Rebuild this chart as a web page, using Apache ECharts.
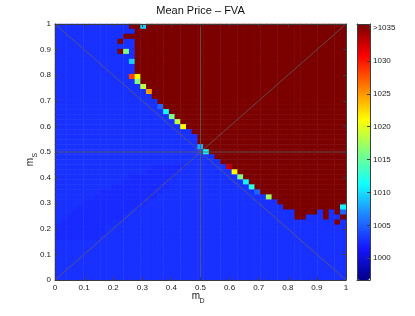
<!DOCTYPE html>
<html><head><meta charset="utf-8">
<script src="https://cdn.jsdelivr.net/npm/echarts@6/dist/echarts.min.js"></script>
<style>html,body{margin:0;padding:0;background:#fff}#c{width:415px;height:316px}</style>
</head><body><div id="c"></div>
<script>
// colour scale (jet) limits and colorbar tick labels
const cbMin = 996.7, cbMax = 1035.6;
const cbTicks = [1000, 1005, 1010, 1015, 1020, 1025, 1030, 1035];
// cell levels (key -> mean price)
const levels = {
  '.': 1002.8, ',': 1002.5, 'R': 1035.5, 'c': 1009.5, 'b': 1008, 'g': 1016,
  'o': 1028.3, 'y': 1021, 'l': 1018.5, 'O': 1024.7, 'm': 1005.2, 'C': 1011,
  'r': 1033, 'k': 1012.5, 'L': 1017.5
};
// 51 x 51 cells, rows from m_S = 1 (top) down to m_S = 0, columns m_D = 0 .. 1 (grouped by 10)
const rows = [
  ".......... ...RRcRRRR RRRRRRRRRR RRRRRRRRRR RRRRRRRRRR R",
  ".......... ....RRRRRR RRRRRRRRRR RRRRRRRRRR RRRRRRRRRR R",
  ".......... ..RRRRRRRR RRRRRRRRRR RRRRRRRRRR RRRRRRRRRR R",
  ".......... .R..RRRRRR RRRRRRRRRR RRRRRRRRRR RRRRRRRRRR R",
  ".......... ....RRRRRR RRRRRRRRRR RRRRRRRRRR RRRRRRRRRR R",
  ".......... .Rg.RRRRRR RRRRRRRRRR RRRRRRRRRR RRRRRRRRRR R",
  ".......... ....RRRRRR RRRRRRRRRR RRRRRRRRRR RRRRRRRRRR R",
  ".......... ...cRRRRRR RRRRRRRRRR RRRRRRRRRR RRRRRRRRRR R",
  ".......... ....RRRRRR RRRRRRRRRR RRRRRRRRRR RRRRRRRRRR R",
  ".......... ....RRRRRR RRRRRRRRRR RRRRRRRRRR RRRRRRRRRR R",
  ".......... ...oyRRRRR RRRRRRRRRR RRRRRRRRRR RRRRRRRRRR R",
  ".......... ....gRRRRR RRRRRRRRRR RRRRRRRRRR RRRRRRRRRR R",
  ".......... .....lRRRR RRRRRRRRRR RRRRRRRRRR RRRRRRRRRR R",
  ".......... ......ORRR RRRRRRRRRR RRRRRRRRRR RRRRRRRRRR R",
  ".......... .......RRR RRRRRRRRRR RRRRRRRRRR RRRRRRRRRR R",
  ".......... ........RR RRRRRRRRRR RRRRRRRRRR RRRRRRRRRR R",
  ".......... ........mR RRRRRRRRRR RRRRRRRRRR RRRRRRRRRR R",
  ".......... .........C RRRRRRRRRR RRRRRRRRRR RRRRRRRRRR R",
  ".......... .......... gRRRRRRRRR RRRRRRRRRR RRRRRRRRRR R",
  ".......... .......... .lRRRRRRRR RRRRRRRRRR RRRRRRRRRR R",
  ".......... .......... ..yRRRRRRR RRRRRRRRRR RRRRRRRRRR R",
  ".......... .......... ....RRRRRR RRRRRRRRRR RRRRRRRRRR R",
  ".......... .......... .....RRRRR RRRRRRRRRR RRRRRRRRRR R",
  ".......... .......... .....RRRRR RRRRRRRRRR RRRRRRRRRR R",
  ".......... .......... .....bRRRR RRRRRRRRRR RRRRRRRRRR R",
  ".......... .......... ......CRRR RRRRRRRRRR RRRRRRRRRR R",
  ".......... .......... ........RR RRRRRRRRRR RRRRRRRRRR R",
  ".......... .......... .........R RRRRRRRRRR RRRRRRRRRR R",
  ".......... .......,,, ,,,....... rRRRRRRRRR RRRRRRRRRR R",
  ".......... ......,,,, ,,........ .yRRRRRRRR RRRRRRRRRR R",
  ".......... ...,,,,,,, ,......... ..gRRRRRRR RRRRRRRRRR R",
  ".......... ..,,,,,,,, .......... ...CRRRRRR RRRRRRRRRR R",
  ".......... ,,,,,,,,,, .......... ....kRRRRR RRRRRRRRRR R",
  "........,, ,,,,,,,,,. .......... .....mRRRR RRRRRRRRRR R",
  ".......,,, ,,,,,,,,.. .......... .......LRR RRRRRRRRRR R",
  ".....,,,,, ,,,,,,.... .......... .........R RRRRRRRRRR R",
  "....,,,,,, ,,,,,..... .......... .......... RRRRRRRRRR C",
  "...,,,,,,, ,,,....... .......... .......... ..RRRR.R.R m",
  "..,,,,,,,, ,,........ .......... .......... ..RR...R.. R",
  ".,,,,,,,,, .......... .......... .......... .........R .",
  ",,,,,,,,,. .......... .......... .......... .......... .",
  ",,,,,,,,,. .......... .......... .......... .......... .",
  ",,,,,,,,.. .......... .......... .......... .......... .",
  ".......... .......... .......... .......... .......... .",
  ".......... .......... .......... .......... .......... .",
  ".......... .......... .......... .......... .......... .",
  ".......... .......... .......... .......... .......... .",
  ".......... .......... .......... .......... .......... .",
  ".......... .......... .......... .......... .......... .",
  ".......... .......... .......... .......... .......... .",
  ".......... .......... .......... .......... .......... ."
];
// reference lines (m_D, m_S)
const diagUp = [[0, 0], [1, 1]];
const diagDown = [[0, 1], [1, 0]];
const midV = [[0.5, 0], [0.5, 1]];
const midH = [[0, 0.5], [1, 0.5]];

const N = rows.length;
const cats = rows.map((_, i) => String(i));
const cells = [];
rows.forEach((r, i) => {
  const s = r.replace(/ /g, '');
  const yi = N - 1 - i;
  for (let k = 0; k < s.length; k++) cells.push([k, yi, levels[s[k]]]);
});

const FONT = 'Liberation Sans, Arial, Helvetica, sans-serif';
const AX = '#3c3c3c', TXT = '#1a1a1a';
const G = { left: 55, top: 24, width: 291, height: 256 };
const CB = { left: 357, top: 24, width: 13, height: 256 };

const valAxisBase = (extra) => Object.assign({
  type: 'value', gridIndex: 0, min: 0, max: 1, interval: 0.1, z: 5,
  splitLine: { show: false },
  axisLine: { show: true, onZero: false, lineStyle: { color: AX, width: 1 } },
  axisTick: { show: true, inside: true, length: 3, lineStyle: { color: AX } },
  axisLabel: { show: false }
}, extra);

const lineSeries = (d) => ({
  type: 'line', xAxisIndex: 1, yAxisIndex: 1, data: d, symbol: 'none',
  silent: true, z: 4, animation: false,
  lineStyle: { color: 'rgba(95,95,95,0.8)', width: 1 }
});

const chart = echarts.init(document.getElementById('c'), null, { renderer: 'canvas' });
chart.setOption({
  animation: false,
  backgroundColor: '#fff',
  textStyle: { fontFamily: FONT },
  grid: [
    Object.assign({ containLabel: false }, G),
    Object.assign({ containLabel: false }, CB)
  ],
  xAxis: [
    { type: 'category', gridIndex: 0, data: cats, show: false },
    valAxisBase({ position: 'bottom',
      axisLabel: { show: true, fontSize: 8, color: TXT, margin: 4, fontFamily: FONT } }),
    valAxisBase({ position: 'top' }),
    { type: 'value', gridIndex: 1, min: 0, max: 1, position: 'bottom', z: 10,
      axisLine: { show: true, onZero: false, lineStyle: { color: AX } },
      axisTick: { show: false }, axisLabel: { show: false }, splitLine: { show: false } },
    { type: 'value', gridIndex: 1, min: 0, max: 1, position: 'top', z: 10,
      axisLine: { show: true, onZero: false, lineStyle: { color: AX } },
      axisTick: { show: false }, axisLabel: { show: false }, splitLine: { show: false } }
  ],
  yAxis: [
    { type: 'category', gridIndex: 0, data: cats, show: false },
    valAxisBase({ position: 'left',
      axisLabel: { show: true, fontSize: 8, color: TXT, margin: 4, fontFamily: FONT } }),
    valAxisBase({ position: 'right' }),
    { type: 'value', gridIndex: 1, min: cbMin, max: cbMax, position: 'right', z: 10,
      splitLine: { show: false },
      axisLine: { show: true, onZero: false, lineStyle: { color: AX } },
      axisTick: { show: true, inside: true, length: 3, customValues: cbTicks, lineStyle: { color: AX } },
      axisLabel: { show: true, customValues: cbTicks, fontSize: 8, color: TXT, margin: 3, fontFamily: FONT,
        formatter: (v) => (v === 1035 ? '>1035' : String(v)) } },
    { type: 'value', gridIndex: 1, min: cbMin, max: cbMax, position: 'left', z: 10,
      splitLine: { show: false },
      axisLine: { show: true, onZero: false, lineStyle: { color: AX } },
      axisTick: { show: false }, axisLabel: { show: false } }
  ],
  visualMap: {
    type: 'continuous', min: cbMin, max: cbMax, seriesIndex: 0, calculable: false,
    show: true, orient: 'vertical', left: CB.left, top: CB.top, padding: 0,
    itemWidth: CB.width, itemHeight: CB.height, text: null, hoverLink: false,
    inRange: { color: ['#000088', '#1616ff', '#2080ff', '#10ffff', '#80ff80', '#ffff00', '#ff8000', '#ff0000', '#780000'] }
  },
  graphic: [
    { type: 'text', x: 200.5, y: 11, style: { text: 'Mean Price \u2013 FVA', fill: '#111', font: '11px ' + FONT, textAlign: 'center', textVerticalAlign: 'middle' } },
    { type: 'text', x: 196, y: 296.5, style: { text: 'm', fill: TXT, font: '10px ' + FONT, textAlign: 'center', textVerticalAlign: 'middle' } },
    { type: 'text', x: 199.5, y: 301, style: { text: 'D', fill: TXT, font: '7px ' + FONT, textAlign: 'left', textVerticalAlign: 'middle' } },
    { type: 'text', x: 30.5, y: 162, rotation: Math.PI / 2, style: { text: 'm', fill: TXT, font: '10px ' + FONT, textAlign: 'center', textVerticalAlign: 'middle' } },
    { type: 'text', x: 35, y: 157.5, rotation: Math.PI / 2, style: { text: 'S', fill: TXT, font: '7px ' + FONT, textAlign: 'left', textVerticalAlign: 'middle' } }
  ],
  series: [
    { type: 'heatmap', xAxisIndex: 0, yAxisIndex: 0, data: cells, silent: true,
      progressive: 0, emphasis: { disabled: true }, itemStyle: { borderWidth: 0 } },
    lineSeries(diagUp), lineSeries(diagDown), lineSeries(midV), lineSeries(midH)
  ]
});
</script></body></html>
